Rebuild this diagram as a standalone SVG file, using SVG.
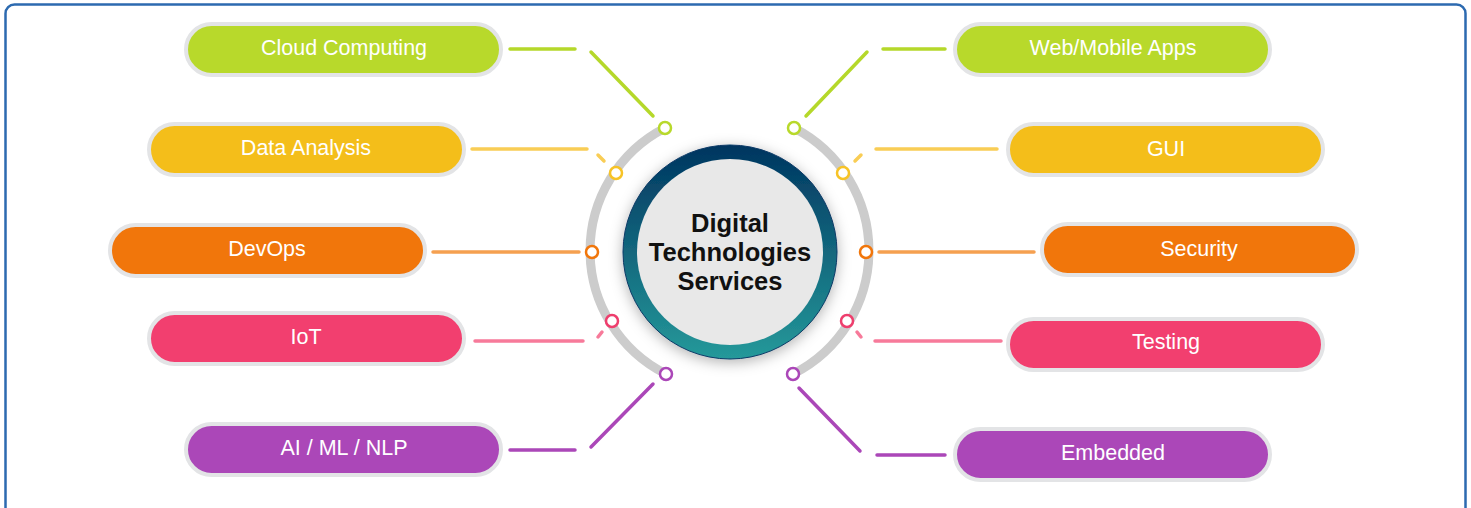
<svg xmlns="http://www.w3.org/2000/svg" width="1471" height="508" viewBox="0 0 1471 508">
  <defs>
    <linearGradient id="ringGrad" x1="0" y1="0" x2="0" y2="1">
      <stop offset="0" stop-color="#003560"/>
      <stop offset="1" stop-color="#25999a"/>
    </linearGradient>
    <filter id="shadow" x="-30%" y="-30%" width="160%" height="160%">
      <feDropShadow dx="0" dy="3" stdDeviation="7" flood-color="#000" flood-opacity="0.3"/>
    </filter>
    <style>
      .pill { stroke: #e3e4e6; stroke-width: 4; }
      .lbl { font-family: "Liberation Sans", Arial, sans-serif; font-size: 21.5px; fill: #ffffff; text-anchor: middle; }
      .title { font-family: "Liberation Sans", Arial, sans-serif; font-size: 25.5px; font-weight: bold; fill: #111111; text-anchor: middle; }
      .con { fill: none; stroke-width: 3.5; stroke-linecap: round; }
      .dot { fill: #ffffff; stroke-width: 2.5; }
      .arc { fill: none; stroke: #cccccc; stroke-width: 9; }
      .green { fill: #b8d92b; } .yellow { fill: #f4be1a; } .orange { fill: #f1760b; } .pink { fill: #f23f6f; } .purple { fill: #ab47b8; }
    </style>
  </defs>
  <rect x="0" y="0" width="1471" height="508" fill="#ffffff"/>
  <rect x="5.5" y="4.5" width="1460" height="515" rx="9" fill="none" stroke="#2c6ab0" stroke-width="2.5"/>

  <g id="arcs">
    <path class="arc" d="M 665 128 A 138 138 0 0 0 666 374"/>
    <path class="arc" d="M 794 128 A 138 138 0 0 1 793 374"/>
  </g>

  <g id="connectors">
    <g stroke="#b5d82a" class="con">
      <line x1="510" y1="49" x2="575" y2="49"/>
      <line x1="591" y1="52" x2="653" y2="116"/>
      <line x1="883" y1="49" x2="945" y2="49"/>
      <line x1="867" y1="52" x2="806" y2="116"/>
    </g>
    <g stroke="#f9cd55" class="con">
      <line x1="472" y1="149" x2="587" y2="149"/>
      <line x1="598" y1="155" x2="604" y2="161"/>
      <line x1="876" y1="149" x2="997" y2="149"/>
      <line x1="861" y1="155" x2="855" y2="161"/>
    </g>
    <g stroke="#f5a050" class="con">
      <line x1="433" y1="252" x2="579" y2="252"/>
      <line x1="879" y1="252" x2="1034" y2="252"/>
    </g>
    <g stroke="#f77a9a" class="con">
      <line x1="475" y1="341" x2="583" y2="341"/>
      <line x1="598" y1="337" x2="602" y2="332"/>
      <line x1="875" y1="341" x2="1001" y2="341"/>
      <line x1="857" y1="332" x2="861" y2="337"/>
    </g>
    <g stroke="#ab47b8" class="con">
      <line x1="510" y1="450" x2="575" y2="450"/>
      <line x1="591" y1="447" x2="653" y2="384"/>
      <line x1="877" y1="455" x2="945" y2="455"/>
      <line x1="799" y1="388" x2="860" y2="451"/>
    </g>
  </g>

  <g id="dots">
    <circle class="dot" cx="665" cy="128" r="6" stroke="#b8d92b"/>
    <circle class="dot" cx="616" cy="173" r="6" stroke="#f7c326"/>
    <circle class="dot" cx="592" cy="252" r="6" stroke="#f1760b"/>
    <circle class="dot" cx="612" cy="321" r="6" stroke="#ee3e6d"/>
    <circle class="dot" cx="666" cy="374" r="6" stroke="#ab47b8"/>
    <circle class="dot" cx="794" cy="128" r="6" stroke="#b8d92b"/>
    <circle class="dot" cx="843" cy="173" r="6" stroke="#f7c326"/>
    <circle class="dot" cx="866" cy="252" r="6" stroke="#f1760b"/>
    <circle class="dot" cx="847" cy="321" r="6" stroke="#ee3e6d"/>
    <circle class="dot" cx="793" cy="374" r="6" stroke="#ab47b8"/>
  </g>

  <g id="center">
    <circle cx="730" cy="252" r="107" fill="url(#ringGrad)" stroke="#0b3a66" stroke-width="1" filter="url(#shadow)"/>
    <circle cx="730" cy="252" r="93" fill="#e8e8e8"/>
    <text class="title" x="730" y="232">Digital</text>
    <text class="title" x="730" y="261">Technologies</text>
    <text class="title" x="730" y="290">Services</text>
  </g>

  <g id="cloud-computing">
    <rect class="pill green" x="186" y="24" width="315" height="51" rx="25.5"/>
    <text class="lbl" x="344" y="55">Cloud Computing</text>
  </g>
  <g id="data-analysis">
    <rect class="pill yellow" x="149" y="124" width="315" height="51" rx="25.5"/>
    <text class="lbl" x="306" y="155">Data Analysis</text>
  </g>
  <g id="devops">
    <rect class="pill orange" x="110" y="225" width="315" height="51" rx="25.5"/>
    <text class="lbl" x="267" y="256">DevOps</text>
  </g>
  <g id="iot">
    <rect class="pill pink" x="149" y="313" width="315" height="51" rx="25.5"/>
    <text class="lbl" x="306" y="344">IoT</text>
  </g>
  <g id="ai-ml-nlp">
    <rect class="pill purple" x="186" y="424" width="315" height="51" rx="25.5"/>
    <text class="lbl" x="344" y="455">AI / ML / NLP</text>
  </g>
  <g id="web-mobile-apps">
    <rect class="pill green" x="955" y="24" width="315" height="51" rx="25.5"/>
    <text class="lbl" x="1113" y="55">Web/Mobile Apps</text>
  </g>
  <g id="gui">
    <rect class="pill yellow" x="1008" y="124" width="315" height="51" rx="25.5"/>
    <text class="lbl" x="1166" y="156">GUI</text>
  </g>
  <g id="security">
    <rect class="pill orange" x="1042" y="224" width="315" height="51" rx="25.5"/>
    <text class="lbl" x="1199" y="256">Security</text>
  </g>
  <g id="testing">
    <rect class="pill pink" x="1008" y="319" width="315" height="51" rx="25.5"/>
    <text class="lbl" x="1166" y="349">Testing</text>
  </g>
  <g id="embedded">
    <rect class="pill purple" x="955" y="429" width="315" height="51" rx="25.5"/>
    <text class="lbl" x="1113" y="460">Embedded</text>
  </g>
</svg>
